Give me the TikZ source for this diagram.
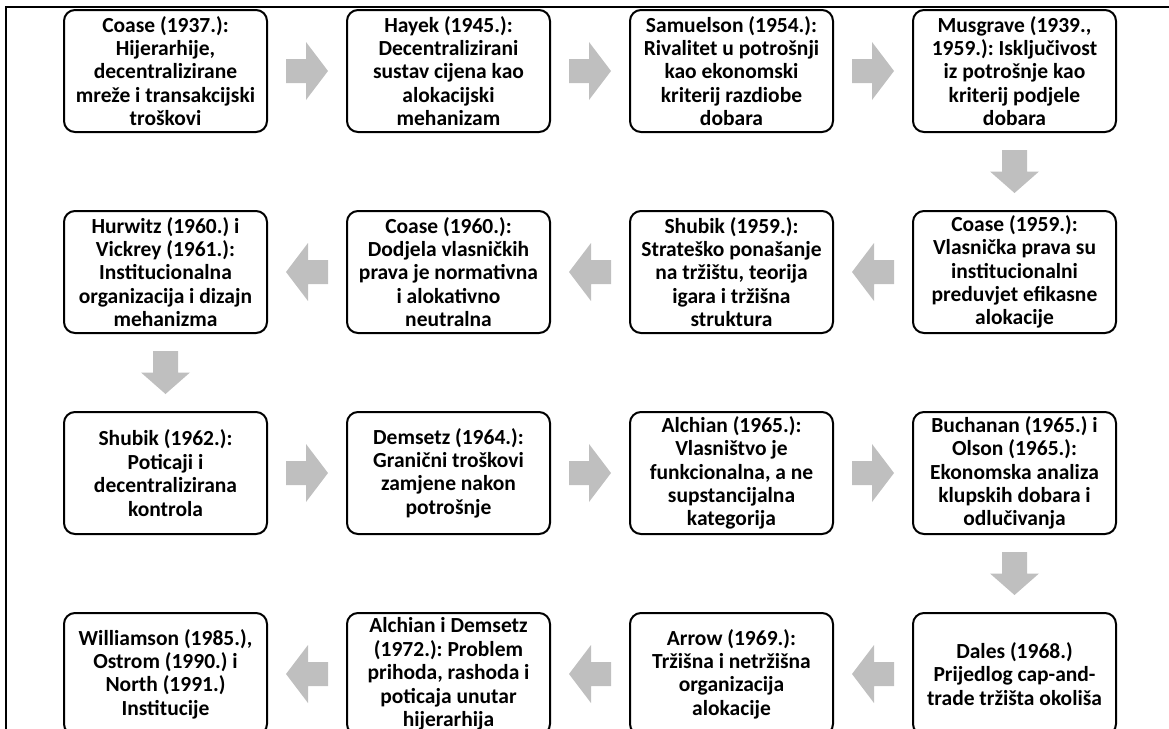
\documentclass[tikz,border=0pt]{standalone}
\usepackage{fontspec}
\setmainfont{Carlito}
\usetikzlibrary{calc}
\frenchspacing
\definecolor{arrowgray}{RGB}{191,191,191}
\tikzset{
  box/.style={draw=black, line width=2pt, rounded corners=11pt, fill=white,
    minimum width=203pt, minimum height=122pt, inner sep=0pt, align=center,
    font=\bfseries\frenchspacing\fontsize{21.5}{23.4}\selectfont},
  harrowpic/.pic={\fill[arrowgray] (-21,-12) -- (-1,-12) -- (-1,-29) -- (21,0) -- (-1,29) -- (-1,12) -- (-21,12) -- cycle;},
  varrowpic/.pic={\fill[arrowgray] (-12.5,-21.5) -- (12.5,-21.5) -- (12.5,0) -- (24.5,0) -- (0,21.5) -- (-24.5,0) -- (-12.5,0) -- cycle;},
}
\begin{document}
\begin{tikzpicture}[x=1pt,y=-1pt]
\useasboundingbox (0,0) rectangle (1169,728);
\clip (0,0) rectangle (1169,728);
\draw[line width=2pt] (6,7) -- (1175,7);
\draw[line width=2pt] (6,6) -- (6,735);
% row 1
\node[box] (a1) at (165.5,71) {Coase (1937.):\\Hijerarhije,\\decentralizirane\\mreže i transakcijski\\troškovi};
\node[box] (a2) at (448.5,71) {Hayek (1945.):\\Decentralizirani\\sustav cijena kao\\alokacijski\\mehanizam};
\node[box] (a3) at (731.5,71) {Samuelson (1954.):\\Rivalitet u potrošnji\\kao ekonomski\\kriterij razdiobe\\dobara};
\node[box] (a4) at (1014.5,71) {Musgrave (1939.,\\1959.): Isključivost\\iz potrošnje kao\\kriterij podjele\\dobara};
% row 2
\node[box] (b1) at (165.5,272) {Hurwitz (1960.) i\\Vickrey (1961.):\\Institucionalna\\organizacija i dizajn\\mehanizma};
\node[box] (b2) at (448.5,272) {Coase (1960.):\\Dodjela vlasničkih\\prava je normativna\\i alokativno\\neutralna};
\node[box] (b3) at (731.5,272) {Shubik (1959.):\\Strateško ponašanje\\na tržištu, teorija\\igara i tržišna\\struktura};
\node[box] (b4) at (1014.5,272) {Coase (1959.):\\Vlasnička prava su\\institucionalni\\preduvjet efikasne\\alokacije};
% row 3
\node[box] (c1) at (165.5,473) {Shubik (1962.):\\Poticaji i\\decentralizirana\\kontrola};
\node[box] (c2) at (448.5,473) {Demsetz (1964.):\\Granični troškovi\\zamjene nakon\\potrošnje};
\node[box] (c3) at (731.5,473) {Alchian (1965.):\\Vlasništvo je\\funkcionalna, a ne\\supstancijalna\\kategorija};
\node[box] (c4) at (1014.5,473) {Buchanan (1965.) i\\Olson (1965.):\\Ekonomska analiza\\klupskih dobara i\\odlučivanja};
% row 4
\node[box] (d1) at (165.5,674) {Williamson (1985.),\\Ostrom (1990.) i\\North (1991.)\\Institucije};
\node[box] (d2) at (448.5,674) {Alchian i Demsetz\\(1972.): Problem\\prihoda, rashoda i\\poticaja unutar\\hijerarhija};
\node[box] (d3) at (731.5,674) {Arrow (1969.):\\Tržišna i netržišna\\organizacija\\alokacije};
\node[box] (d4) at (1014.5,674) {Dales (1968.)\\Prijedlog cap-and-\\trade tržišta okoliša};
% arrows
\pic at ($(a1.east)!0.5!(a2.west)$) {harrowpic};
\pic at ($(a2.east)!0.5!(a3.west)$) {harrowpic};
\pic at ($(a3.east)!0.5!(a4.west)$) {harrowpic};
\pic at ($(a4.south)!0.5!(b4.north)$) {varrowpic};
\pic[rotate=180] at ($(b4.west)!0.5!(b3.east)$) {harrowpic};
\pic[rotate=180] at ($(b3.west)!0.5!(b2.east)$) {harrowpic};
\pic[rotate=180] at ($(b2.west)!0.5!(b1.east)$) {harrowpic};
\pic at ($(b1.south)!0.5!(c1.north)$) {varrowpic};
\pic at ($(c1.east)!0.5!(c2.west)$) {harrowpic};
\pic at ($(c2.east)!0.5!(c3.west)$) {harrowpic};
\pic at ($(c3.east)!0.5!(c4.west)$) {harrowpic};
\pic at ($(c4.south)!0.5!(d4.north)$) {varrowpic};
\pic[rotate=180] at ($(d4.west)!0.5!(d3.east)$) {harrowpic};
\pic[rotate=180] at ($(d3.west)!0.5!(d2.east)$) {harrowpic};
\pic[rotate=180] at ($(d2.west)!0.5!(d1.east)$) {harrowpic};
\end{tikzpicture}
\end{document}
